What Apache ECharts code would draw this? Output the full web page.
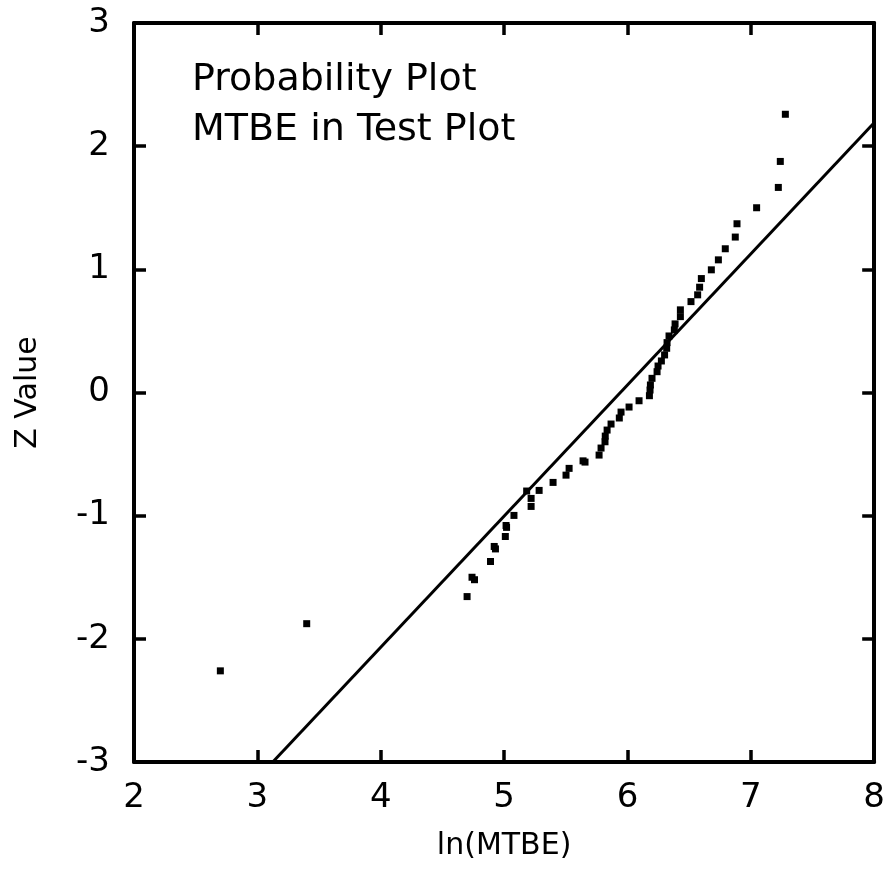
<!DOCTYPE html>
<html>
<head>
<meta charset="utf-8">
<script src="https://cdn.jsdelivr.net/npm/echarts@6/dist/echarts.min.js"></script>
<style>html,body{margin:0;padding:0;background:#fff;}#c{width:888px;height:884px;}</style>
</head>
<body>
<div id="c"></div>
<script>
// ln(MTBE) values of the observations
var lnMTBE = [2.70, 3.40, 4.70, 4.74, 4.76, 4.89, 4.92, 4.93, 5.01, 5.016, 5.02, 5.08, 5.183, 5.219, 5.219, 5.284, 5.397, 5.502, 5.527, 5.64, 5.656, 5.770, 5.786, 5.818, 5.82, 5.835, 5.867, 5.934, 5.948, 6.013, 6.094, 6.178, 6.183, 6.186, 6.199, 6.240, 6.248, 6.275, 6.301, 6.318, 6.321, 6.337, 6.380, 6.386, 6.429, 6.429, 6.515, 6.569, 6.585, 6.599, 6.680, 6.737, 6.793, 6.874, 6.888, 7.047, 7.223, 7.239, 7.28];
// Z values (normal scores) of the observations
var zValue = [-2.26, -1.877, -1.657, -1.50, -1.52, -1.372, -1.25, -1.27, -1.169, -1.08, -1.095, -0.998, -0.80, -0.86, -0.925, -0.795, -0.730, -0.671, -0.616, -0.555, -0.565, -0.508, -0.451, -0.400, -0.354, -0.305, -0.256, -0.207, -0.159, -0.118, -0.067, -0.026, 0.020, 0.061, 0.115, 0.169, 0.215, 0.256, 0.305, 0.359, 0.405, 0.459, 0.508, 0.557, 0.616, 0.671, 0.738, 0.793, 0.855, 0.925, 0.996, 1.077, 1.167, 1.262, 1.370, 1.500, 1.665, 1.876, 2.259];
// fitted normal line end points
var fitX = [3.125, 8.0];
var fitZ = [-3.0, 2.19];
var xTicks = [2, 3, 4, 5, 6, 7, 8];
var yTicks = [-3, -2, -1, 0, 1, 2, 3];
var titleLines = ['Probability Plot', 'MTBE in Test Plot'];

var pts = lnMTBE.map(function (x, i) { return [x, zValue[i]]; });
var fit = fitX.map(function (x, i) { return [x, fitZ[i]]; });
var FONT = 'DejaVu Sans';

var chart = echarts.init(document.getElementById('c'), null, {renderer: 'canvas'});
var frameLine = {show: true, onZero: false, lineStyle: {color: '#000', width: 4}};
var inTick = {show: true, inside: true, length: 12, lineStyle: {color: '#000', width: 3.5}};
chart.setOption({
  animation: false,
  backgroundColor: '#fff',
  title: {
    text: titleLines.join('\n'),
    left: 192, top: 55, padding: 0,
    textStyle: {fontFamily: FONT, fontSize: 38, fontWeight: 'normal', color: '#000', lineHeight: 50}
  },
  grid: {left: 134, right: 13, top: 23, bottom: 122, containLabel: false},
  xAxis: [{
    type: 'value', min: xTicks[0], max: xTicks[xTicks.length - 1], interval: 1, position: 'bottom',
    name: 'ln(MTBE)', nameLocation: 'middle', nameGap: 69,
    nameTextStyle: {fontFamily: FONT, fontSize: 30, color: '#000'},
    axisLine: frameLine, axisTick: inTick, splitLine: {show: false},
    axisLabel: {margin: 19, fontFamily: FONT, fontSize: 34, color: '#000'}
  }, {
    type: 'value', min: xTicks[0], max: xTicks[xTicks.length - 1], interval: 1, position: 'top',
    axisLine: frameLine, axisTick: inTick, splitLine: {show: false}, axisLabel: {show: false}
  }],
  yAxis: [{
    type: 'value', min: yTicks[0], max: yTicks[yTicks.length - 1], interval: 1, position: 'left',
    name: 'Z Value', nameLocation: 'middle', nameGap: 91,
    nameTextStyle: {fontFamily: FONT, fontSize: 30, color: '#000'},
    axisLine: frameLine, axisTick: inTick, splitLine: {show: false},
    axisLabel: {margin: 24, fontFamily: FONT, fontSize: 34, color: '#000'}
  }, {
    type: 'value', min: yTicks[0], max: yTicks[yTicks.length - 1], interval: 1, position: 'right',
    axisLine: frameLine, axisTick: inTick, splitLine: {show: false}, axisLabel: {show: false}
  }],
  series: [{
    type: 'line', data: fit, showSymbol: false, symbol: 'none', clip: true,
    lineStyle: {color: '#000', width: 3}, z: 2
  }, {
    type: 'scatter', data: pts, symbol: 'rect', symbolSize: 7,
    itemStyle: {color: '#000', opacity: 1}, z: 3
  }]
});
</script>
</body>
</html>
